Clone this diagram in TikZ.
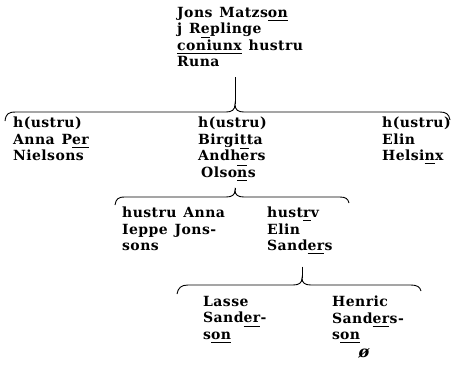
\documentclass[tikz,border=0pt]{standalone}
\usepackage{fontspec}
\setmainfont{DejaVu Serif}[LetterSpace=3, WordSpace=1.3]
\usetikzlibrary{positioning}
\tikzset{
  kin/.style={line width=0.9pt},
  person/.style={anchor=north west, inner sep=0pt, align=left,
    font=\bfseries\fontsize{14}{16.5}\selectfont}
}
\newsavebox\abbox
\newcommand{\ab}[1]{\sbox\abbox{#1}\rlap{\rule[-3.5pt]{\wd\abbox}{0.9pt}}#1}
\newcommand{\ob}[1]{\sbox\abbox{#1}\rlap{\rule[11.5pt]{\wd\abbox}{0.9pt}}#1}

\begin{document}
\begin{tikzpicture}[x=1pt,y=-1pt]
\useasboundingbox (0,0) rectangle (454,365);
% the family
\node[person] (jons) at (177,7) {Jons Matzs\ab{on}\\j R\ab{e}plinge\\\ab{coniunx} hustru\\Runa};
\node[person] (anna) at (13,117) {h(ustru)\\Anna P\ab{er}\\Nielsons};
\node[person] (birgitta) at (198,117) {h(ustru)\\Birgitta\\Andh\ob{e}rs\\\hspace{3pt}Olso\ob{\ab{n}}s};
\node[person] (elin) at (382,117) {h(ustru)\\Elin\\Helsi\ab{n}x};
\node[person] (ieppe) at (122,207) {hustru Anna\\Ieppe Jons-\\sons};
\node[person] (sanders) at (267,207) {hust\ab{r}v\\Elin\\Sand\ab{er}s};
\node[person] (lasse) at (203,296) {Lasse\\Sand\ab{er}-\\s\ab{on}};
\node[person] (henric) at (332,296) {Henric\\Sand\ab{er}s-\\s\ab{on}};
\node[font=\bfseries\itshape\fontsize{16}{16}\selectfont, inner sep=0pt] (obit) at (364,353) {ø};
% braces
\coordinate (c1) at (235,104);
\coordinate (c2) at (235,190);
\coordinate (c3) at (302,278);
\draw[kin] (5,121) .. controls (6,114) and (8,112) .. (16,112) -- (226,112)
  .. controls (232,112) and (235,110) .. (c1)
  .. controls (235,110) and (238,112) .. (244,112) -- (440,112)
  .. controls (446,112) and (449,114) .. (450,120);
\draw[kin] (115,205) .. controls (116,199) and (118,197) .. (125,197) -- (226,197)
  .. controls (232,197) and (235,195) .. (c2)
  .. controls (235,195) and (238,197) .. (244,197) -- (340,197)
  .. controls (346,197) and (348,199) .. (349,203);
\draw[kin] (177,294) .. controls (178,288) and (181,285) .. (188,285) -- (293,285)
  .. controls (299,285) and (302,283) .. (c3)
  .. controls (302,283) and (305,285) .. (311,285) -- (411,285)
  .. controls (417,285) and (420,287) .. (421,291);
% stems
\draw[kin] ([yshift=-10pt]jons.south -| c1) -- (c1);
\draw[kin] ([yshift=-7pt]birgitta.south -| c2) -- (c2);
\draw[kin] ([yshift=-12pt]sanders.south -| c3) -- (c3);
\end{tikzpicture}
\end{document}
